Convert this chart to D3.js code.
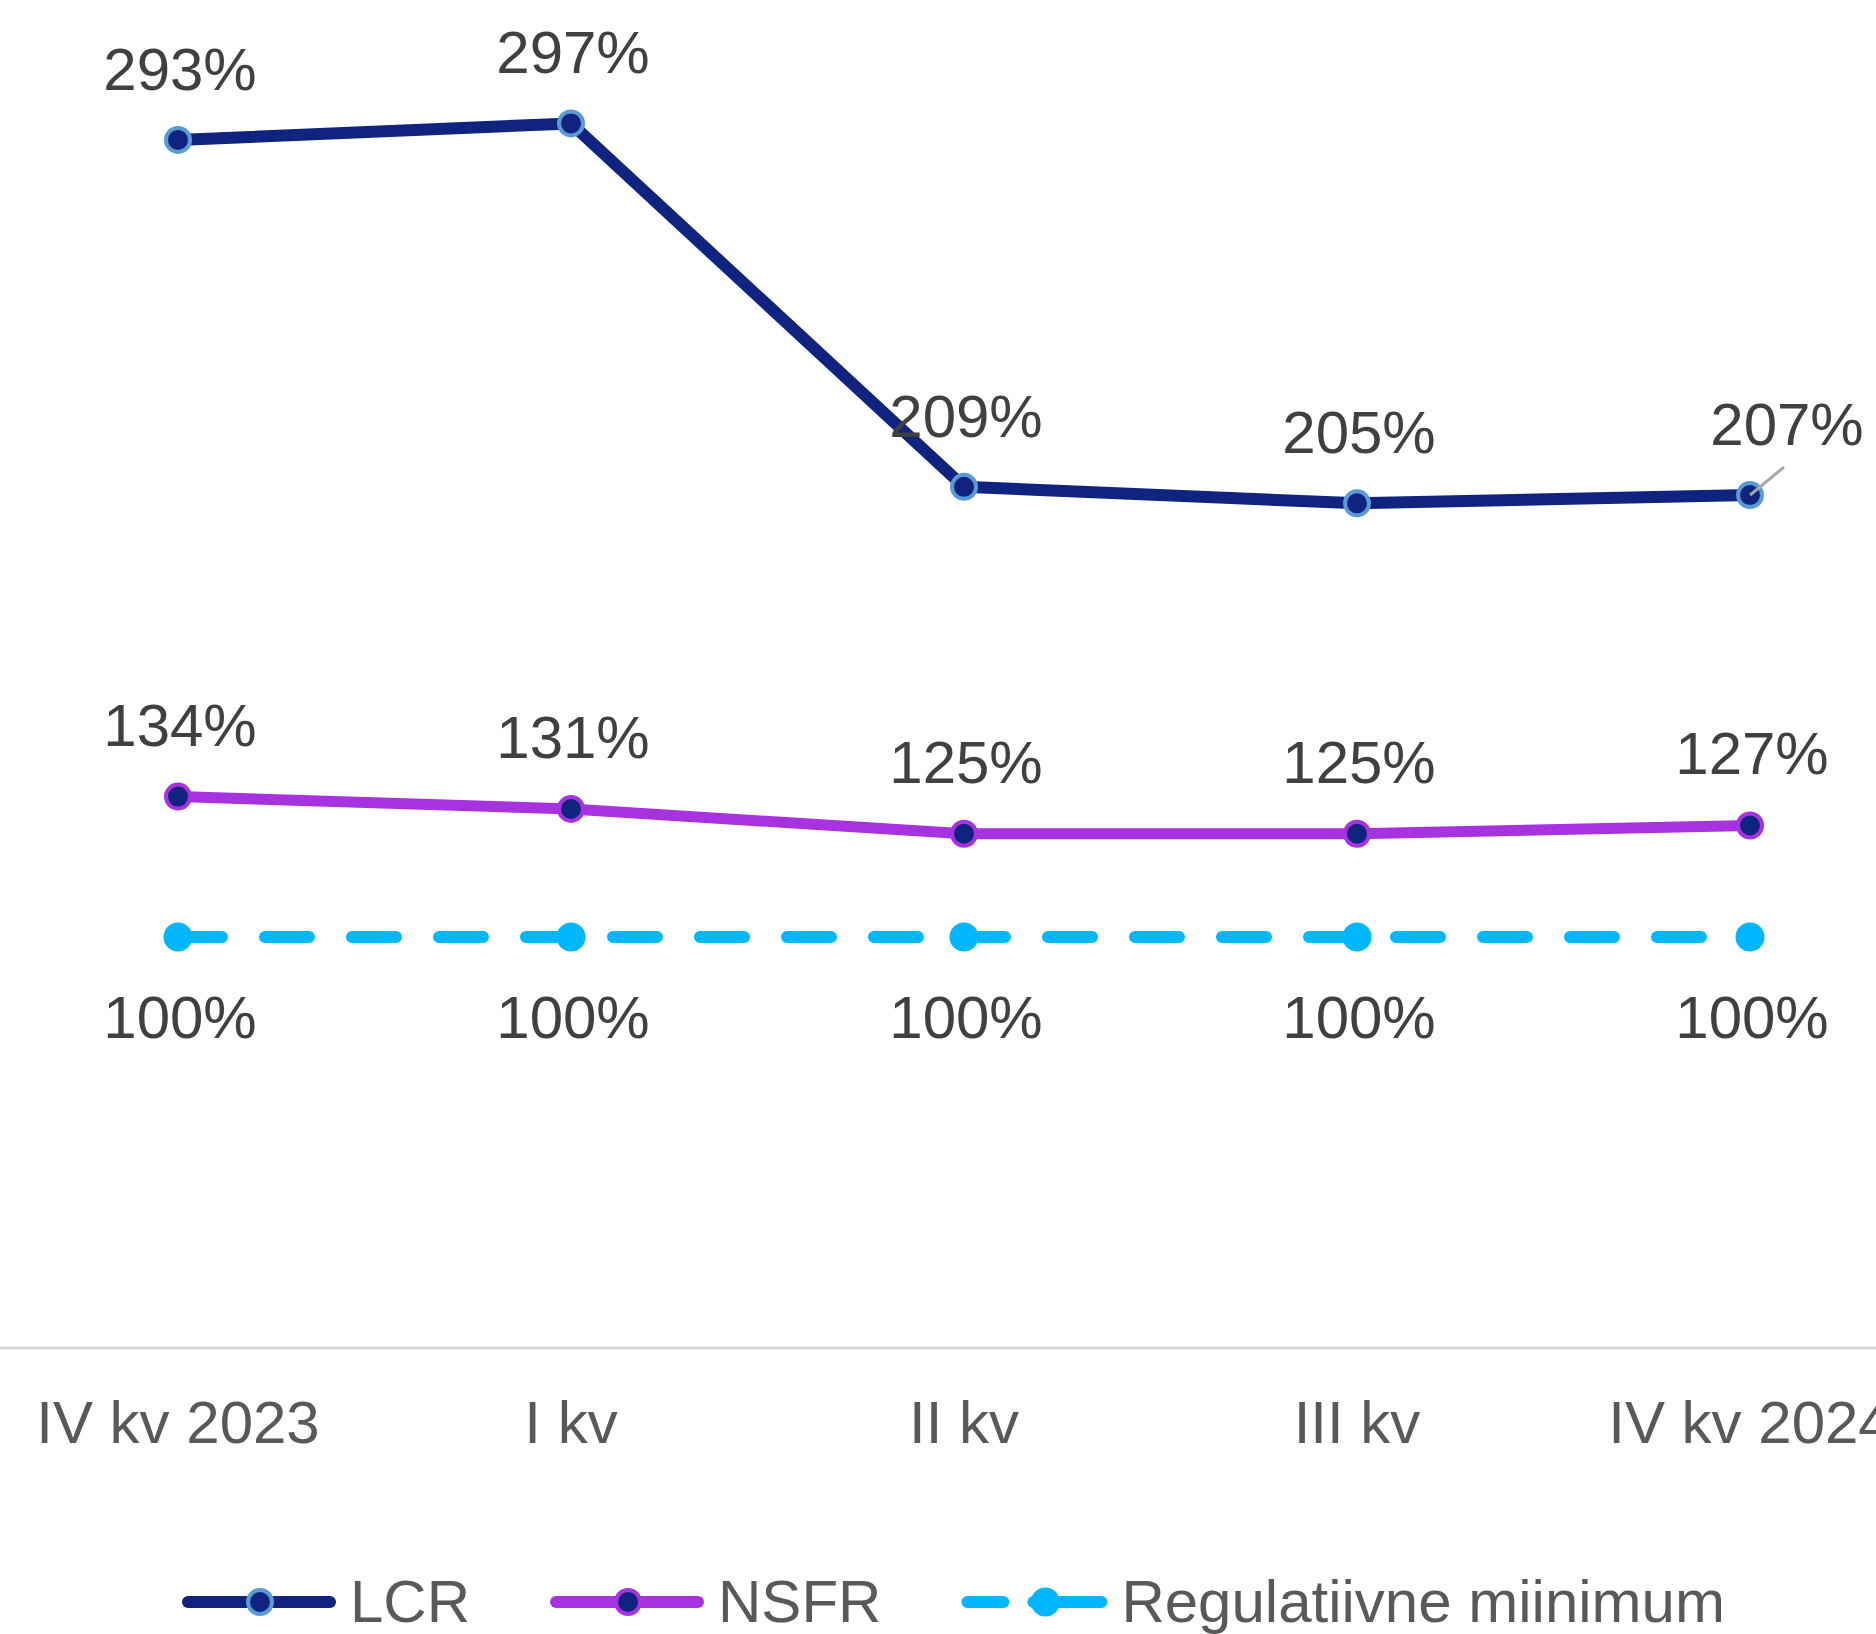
<!DOCTYPE html>
<html lang="et">
<head>
  <meta charset="UTF-8">
  <title>LCR ja NSFR</title>
  <script src="https://cdn.jsdelivr.net/npm/d3@7/dist/d3.min.js"></script>
  <style>
    body { margin: 0; background: #fff; font-family: "Liberation Sans", Arial, sans-serif; }
    .label { font-size: 60px; fill: #404040; text-anchor: middle; }
    .tick-label { font-size: 60px; fill: #595959; text-anchor: middle; }
    .legend-text { font-size: 60px; fill: #595959; }
  </style>
</head>
<body>
  <script>
    const quarters = ["IV kv 2023", "I kv", "II kv", "III kv", "IV kv 2024"];
    const lcr = [293, 297, 209, 205, 207];
    const nsfr = [134, 131, 125, 125, 127];
    const minimum = [100, 100, 100, 100, 100];

    const W = 1876, H = 1634;
    const navy = "#10237f", lightBlue = "#5b9bd5", purple = "#a633df", sky = "#00b6fc";

    const svg = d3.select("body").append("svg")
      .attr("width", W).attr("height", H);

    const x = d3.scalePoint().domain(quarters).range([178, 1750]);
    const y = d3.scaleLinear().domain([0, 300]).range([1350, 111]);

    // x axis line + labels
    svg.append("line")
      .attr("x1", 0).attr("x2", W)
      .attr("y1", 1348).attr("y2", 1348)
      .attr("stroke", "#d9d9d9").attr("stroke-width", 3);

    svg.append("g").selectAll("text")
      .data(quarters)
      .enter().append("text")
      .attr("class", "tick-label")
      .attr("x", d => x(d))
      .attr("y", 1443)
      .text(d => d);

    const series = [
      { name: "LCR", values: lcr, stroke: navy, width: 12, fill: navy, ring: lightBlue, r: 12, rw: 4, dash: null, labelDy: -50 },
      { name: "NSFR", values: nsfr, stroke: purple, width: 11, fill: navy, ring: purple, r: 12, rw: 4, dash: null, labelDy: -51 },
      { name: "Regulatiivne miinimum", values: minimum, stroke: sky, width: 12, fill: sky, ring: "none", r: 14.5, rw: 0, dash: "44 43", labelDy: 101 }
    ];

    const line = d3.line().x((d, i) => x(quarters[i])).y(d => y(d));

    series.forEach(s => {
      svg.append("path")
        .datum(s.values)
        .attr("d", line)
        .attr("fill", "none")
        .attr("stroke", s.stroke)
        .attr("stroke-width", s.width)
        .attr("stroke-linecap", s.dash ? "round" : "butt")
        .attr("stroke-linejoin", "round")
        .attr("stroke-dasharray", s.dash);

      svg.append("g").selectAll("circle")
        .data(s.values)
        .enter().append("circle")
        .attr("cx", (d, i) => x(quarters[i]))
        .attr("cy", d => y(d))
        .attr("r", s.r)
        .attr("fill", s.fill)
        .attr("stroke", s.ring)
        .attr("stroke-width", s.rw);
    });

    // data labels (last LCR label is moved right, with a leader line)
    series.forEach(s => {
      s.values.forEach((v, i) => {
        let lx = x(quarters[i]) + 2, ly = y(v) + s.labelDy;
        if (s.name === "LCR" && i === s.values.length - 1) {
          lx += 35;
          svg.append("line")
            .attr("x1", x(quarters[i])).attr("y1", y(v))
            .attr("x2", x(quarters[i]) + 34).attr("y2", y(v) - 28)
            .attr("stroke", "#a6a6a6").attr("stroke-width", 3);
        }
        svg.append("text")
          .attr("class", "label")
          .attr("x", lx).attr("y", ly)
          .text(v + "%");
      });
    });

    // legend
    const legend = svg.append("g").attr("transform", "translate(188,1602)");
    let lx = 0;
    series.forEach(s => {
      const g = legend.append("g").attr("transform", `translate(${lx},0)`);
      const len = s.dash ? 134 : 142;
      g.append("line")
        .attr("x1", 0).attr("x2", len)
        .attr("stroke", s.stroke).attr("stroke-width", 12)
        .attr("stroke-linecap", "round")
        .attr("stroke-dasharray", s.dash ? "36 30 200" : null);
      g.append("circle")
        .attr("cx", s.dash ? 78 : 72).attr("r", s.r)
        .attr("fill", s.fill).attr("stroke", s.ring).attr("stroke-width", s.rw);
      const t = g.append("text")
        .attr("class", "legend-text")
        .attr("x", len + 20).attr("y", 20)
        .text(s.name);
      lx += len + 20 + t.node().getComputedTextLength() + 86;
    });
  </script>
</body>
</html>
